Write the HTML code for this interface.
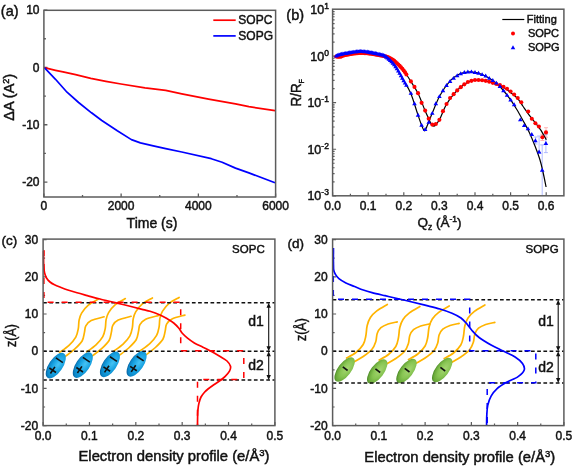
<!DOCTYPE html>
<html><head><meta charset="utf-8"><style>
html,body{margin:0;padding:0;background:#fff;}
svg{display:block;filter:blur(0.3px);}
svg text{font-family:"Liberation Sans",sans-serif;fill:#111;stroke:#111;stroke-width:0.45px;}
</style></head><body>
<svg width="575" height="466" viewBox="0 0 575 466">
<rect width="575" height="466" fill="#fff"/>
<path d="M43.9,197v-3.5 M82.52,197v-2 M121.13,197v-3.5 M159.75,197v-2 M198.37,197v-3.5 M236.98,197v-2 M275.6,197v-3.5 M43.9,10.05h3.5 M43.9,38.73h2 M43.9,67.4h3.5 M43.9,96.08h2 M43.9,124.75h3.5 M43.9,153.43h2 M43.9,182.1h3.5" stroke="#5c5c5c" stroke-width="1.3" fill="none"/>
<polyline points="44.4,67.7 55.5,70.3 63,71.9 75.6,74.6 90.8,78.3 105.9,81.3 121,84 145,87.8 165.7,90.4 181.8,93.8 208.6,99.1 235.5,103.9 248.9,106.7 275,110.7" fill="none" stroke="#f00" stroke-width="1.7" stroke-linejoin="round"/>
<polyline points="44.4,67.6 55.5,79.3 67,92.2 78.6,102.5 91.5,112.8 101.8,120.5 117.3,130.8 131.4,139.6 140.4,142.9 153.3,145.8 165.7,148.6 181.8,152 211.3,158.7 222.1,162.2 235.5,168.1 248.9,172.9 275,182.8" fill="none" stroke="#00f" stroke-width="1.7" stroke-linejoin="round"/>
<rect x="43.9" y="10.3" width="231.7" height="186.7" fill="none" stroke="#5c5c5c" stroke-width="1.5"/>
<line x1="213.3" y1="20.2" x2="235.7" y2="20.2" stroke="#f00" stroke-width="1.7"/>
<line x1="213.3" y1="35.9" x2="235.7" y2="35.9" stroke="#00f" stroke-width="1.7"/>
<text x="238.3" y="24.3" font-size="12" text-anchor="start" >SOPC</text>
<text x="238.3" y="40" font-size="12" text-anchor="start" >SOPG</text>
<text x="39.5" y="14.25" font-size="12" text-anchor="end" >10</text>
<text x="39.5" y="71.6" font-size="12" text-anchor="end" >0</text>
<text x="39.5" y="128.95" font-size="12" text-anchor="end" >-10</text>
<text x="39.5" y="186.3" font-size="12" text-anchor="end" >-20</text>
<text x="43.9" y="210.3" font-size="12" text-anchor="middle" >0</text>
<text x="121.13" y="210.3" font-size="12" text-anchor="middle" >2000</text>
<text x="198.37" y="210.3" font-size="12" text-anchor="middle" >4000</text>
<text x="275.6" y="210.3" font-size="12" text-anchor="middle" >6000</text>
<text x="152" y="228" font-size="14" text-anchor="middle" >Time (s)</text>
<text transform="translate(13.8,97.3) rotate(-90)" font-size="14.5" text-anchor="middle">ΔA (A<tspan font-size="9" dy="-5">2</tspan><tspan dy="5">)</tspan></text>
<text x="0.8" y="16.2" font-size="14.5" text-anchor="start" >(a)</text>
<path d="M332.6,195.8v-3.5 M350.4,195.8v-2 M368.2,195.8v-3.5 M386,195.8v-2 M403.8,195.8v-3.5 M421.6,195.8v-2 M439.4,195.8v-3.5 M457.2,195.8v-2 M475,195.8v-3.5 M492.8,195.8v-2 M510.6,195.8v-3.5 M528.4,195.8v-2 M546.2,195.8v-3.5 M332.6,195.81h3.5 M332.6,181.79h2 M332.6,173.59h2 M332.6,167.77h2 M332.6,163.26h2 M332.6,159.57h2 M332.6,156.45h2 M332.6,153.75h2 M332.6,151.37h2 M332.6,149.24h3.5 M332.6,135.22h2 M332.6,127.02h2 M332.6,121.2h2 M332.6,116.69h2 M332.6,113h2 M332.6,109.88h2 M332.6,107.18h2 M332.6,104.8h2 M332.6,102.67h3.5 M332.6,88.65h2 M332.6,80.45h2 M332.6,74.63h2 M332.6,70.12h2 M332.6,66.43h2 M332.6,63.31h2 M332.6,60.61h2 M332.6,58.23h2 M332.6,56.1h3.5 M332.6,42.08h2 M332.6,33.88h2 M332.6,28.06h2 M332.6,23.55h2 M332.6,19.86h2 M332.6,16.74h2 M332.6,14.04h2 M332.6,11.66h2" stroke="#5c5c5c" stroke-width="1.2" fill="none"/>
<path d="M542.2,144.9V195.6M540.2,144.9h4M545.9,134.6V152.6M543.9,134.6h4M543.9,152.6h4M539.1,136V153.5M537.1,136h4M537.1,153.5h4M535.6,137V144M533.6,137h4M533.6,144h4" stroke="#a9b4ff" stroke-width="0.9" fill="none"/>
<path d="M546,127.7V137.2M544,127.7h4M544,137.2h4M542.4,134.3V140.5M540.4,134.3h4M540.4,140.5h4" stroke="#ffb0b0" stroke-width="0.9" fill="none"/>
<path d="M336,55.8 C337.5,55.42 340.67,54.22 345,53.5 C349.33,52.78 356,51.28 362,51.5 C368,51.72 375.67,52.63 381,54.8 C386.33,56.97 390.33,60.38 394,64.5 C397.67,68.62 400.23,74.75 403,79.5 C405.77,84.25 408.18,87.33 410.6,93 C413.02,98.67 415.68,108.17 417.5,113.5 C419.32,118.83 420.32,122.12 421.5,125 C422.68,127.88 423.6,130.8 424.6,130.8 C425.6,130.8 426.25,127.87 427.5,125 C428.75,122.13 430.05,118.48 432.1,113.6 C434.15,108.72 436.8,101.17 439.8,95.7 C442.8,90.23 446.82,84.42 450.1,80.8 C453.38,77.18 456.52,75.47 459.5,74 C462.48,72.53 465.45,72.28 468,72 C470.55,71.72 472.45,71.88 474.8,72.3 C477.15,72.72 479.67,73.52 482.1,74.5 C484.53,75.48 486.97,76.7 489.4,78.2 C491.83,79.7 494.43,81.53 496.7,83.5 C498.97,85.47 500.73,87.35 503,90 C505.27,92.65 508,96.15 510.3,99.4 C512.6,102.65 514.68,105.98 516.8,109.5 C518.92,113.02 520.93,116.72 523,120.5 C525.07,124.28 527.2,127.95 529.2,132.2 C531.2,136.45 533.2,141.37 535,146 C536.8,150.63 538.67,155.67 540,160 C541.33,164.33 541.98,167.5 543,172 C544.02,176.5 545.58,184.5 546.1,187" stroke="#000" stroke-width="1.2" fill="none"/>
<path d="M336,56.5 C337.5,56.25 340.67,55.58 345,55 C349.33,54.42 356,52.92 362,53 C368,53.08 376.22,54.58 381,55.5 C385.78,56.42 387.65,56.85 390.7,58.5 C393.75,60.15 396.97,63.15 399.3,65.4 C401.63,67.65 402.82,69.4 404.7,72 C406.58,74.6 408.37,77.42 410.6,81 C412.83,84.58 415.73,88.67 418.1,93.5 C420.47,98.33 423.05,105.83 424.8,110 C426.55,114.17 427.48,116.08 428.6,118.5 C429.72,120.92 430.63,123.22 431.5,124.5 C432.37,125.78 433.05,126.2 433.8,126.2 C434.55,126.2 435,125.7 436,124.5 C437,123.3 438.17,122.17 439.8,119 C441.43,115.83 443.52,109.62 445.8,105.5 C448.08,101.38 451.03,97.33 453.5,94.3 C455.97,91.27 458.23,89.3 460.6,87.3 C462.97,85.3 465.27,83.48 467.7,82.3 C470.13,81.12 472.8,80.5 475.2,80.2 C477.6,79.9 479.73,80.2 482.1,80.5 C484.47,80.8 487.08,81.37 489.4,82 C491.72,82.63 493.68,83.42 496,84.3 C498.32,85.18 500.83,85.9 503.3,87.3 C505.77,88.7 508.42,90.83 510.8,92.7 C513.18,94.57 515.6,96.28 517.6,98.5 C519.6,100.72 520.87,103.23 522.8,106 C524.73,108.77 526.97,112.12 529.2,115.1 C531.43,118.08 534.23,121.35 536.2,123.9 C538.17,126.45 539.32,127.75 541,130.4 C542.68,133.05 545.42,138.23 546.3,139.8" stroke="#000" stroke-width="1.2" fill="none"/>
<g fill="#f00"><circle cx="336.2" cy="56.51" r="2.05"/><circle cx="337.55" cy="56.65" r="2.05"/><circle cx="338.9" cy="56.77" r="2.05"/><circle cx="340.25" cy="56.72" r="2.05"/><circle cx="341.6" cy="56.34" r="2.05"/><circle cx="342.95" cy="55.74" r="2.05"/><circle cx="344.3" cy="55.18" r="2.05"/><circle cx="345.65" cy="54.89" r="2.05"/><circle cx="347" cy="54.65" r="2.05"/><circle cx="348.35" cy="54.42" r="2.05"/><circle cx="349.7" cy="54.19" r="2.05"/><circle cx="351.05" cy="53.97" r="2.05"/><circle cx="352.4" cy="53.76" r="2.05"/><circle cx="353.75" cy="53.57" r="2.05"/><circle cx="355.1" cy="53.4" r="2.05"/><circle cx="356.45" cy="53.26" r="2.05"/><circle cx="357.8" cy="53.14" r="2.05"/><circle cx="359.15" cy="53.05" r="2.05"/><circle cx="360.5" cy="53.01" r="2.05"/><circle cx="361.85" cy="53" r="2.05"/><circle cx="363.2" cy="53.03" r="2.05"/><circle cx="364.55" cy="53.09" r="2.05"/><circle cx="365.9" cy="53.19" r="2.05"/><circle cx="367.25" cy="53.3" r="2.05"/><circle cx="368.6" cy="53.45" r="2.05"/><circle cx="369.95" cy="53.61" r="2.05"/><circle cx="371.3" cy="53.8" r="2.05"/><circle cx="372.65" cy="54" r="2.05"/><circle cx="374" cy="54.22" r="2.05"/><circle cx="375.35" cy="54.45" r="2.05"/><circle cx="376.7" cy="54.69" r="2.05"/><circle cx="378.05" cy="54.94" r="2.05"/><circle cx="379.4" cy="55.19" r="2.05"/><circle cx="380.75" cy="55.45" r="2.05"/><circle cx="382.1" cy="55.71" r="2.05"/><circle cx="383.45" cy="55.99" r="2.05"/><circle cx="384.8" cy="56.3" r="2.05"/><circle cx="386.15" cy="56.66" r="2.05"/><circle cx="387.5" cy="57.09" r="2.05"/><circle cx="388.85" cy="57.61" r="2.05"/><circle cx="390.2" cy="58.24" r="2.05"/><circle cx="391.55" cy="58.99" r="2.05"/><circle cx="392.9" cy="59.88" r="2.05"/><circle cx="394.25" cy="60.9" r="2.05"/><circle cx="395.6" cy="62.02" r="2.05"/><circle cx="396.95" cy="63.21" r="2.05"/><circle cx="398.3" cy="64.46" r="2.05"/><circle cx="399.65" cy="65.74" r="2.05"/><circle cx="401" cy="67.18" r="2.05"/><circle cx="402.35" cy="68.78" r="2.05"/><circle cx="403.7" cy="70.49" r="2.05"/><circle cx="405.05" cy="72.29" r="2.05"/><circle cx="406.4" cy="74.46" r="2.05"/><circle cx="410.92" cy="81.39" r="2.05"/><circle cx="414.48" cy="86.9" r="2.05"/><circle cx="418.04" cy="93.17" r="2.05"/><circle cx="421.6" cy="102.86" r="2.05"/><circle cx="425.16" cy="110.61" r="2.05"/><circle cx="428.72" cy="118.64" r="2.05"/><circle cx="432.28" cy="124.61" r="2.05"/><circle cx="435.84" cy="124.05" r="2.05"/><circle cx="439.4" cy="119.86" r="2.05"/><circle cx="442.96" cy="111.16" r="2.05"/><circle cx="446.52" cy="104.06" r="2.05"/><circle cx="450.08" cy="97.93" r="2.05"/><circle cx="453.64" cy="94.15" r="2.05"/><circle cx="457.2" cy="90.4" r="2.05"/><circle cx="460.76" cy="87.16" r="2.05"/><circle cx="464.32" cy="84.34" r="2.05"/><circle cx="467.88" cy="82.01" r="2.05"/><circle cx="471.44" cy="80.86" r="2.05"/><circle cx="475" cy="80.03" r="2.05"/><circle cx="478.56" cy="79.99" r="2.05"/><circle cx="482.12" cy="80.3" r="2.05"/><circle cx="485.68" cy="80.86" r="2.05"/><circle cx="489.24" cy="81.74" r="2.05"/><circle cx="492.8" cy="82.87" r="2.05"/><circle cx="496.36" cy="84.05" r="2.05"/><circle cx="499.92" cy="85.04" r="2.05"/><circle cx="503.48" cy="86.69" r="2.05"/><circle cx="507.04" cy="88.7" r="2.05"/><circle cx="510.6" cy="91.5" r="2.05"/><circle cx="514.16" cy="94.46" r="2.05"/><circle cx="517.72" cy="98.03" r="2.05"/><circle cx="521.28" cy="102.31" r="2.05"/><circle cx="528.2" cy="111.5" r="2.05"/><circle cx="531.8" cy="118.8" r="2.05"/><circle cx="535.4" cy="123.3" r="2.05"/><circle cx="538.9" cy="126.5" r="2.05"/><circle cx="542.4" cy="137.3" r="2.05"/><circle cx="546" cy="132.4" r="2.05"/></g>
<path d="M333.9,57.41L336.2,53.51L338.5,57.41ZM335.25,56.8L337.55,52.9L339.85,56.8ZM336.6,56.36L338.9,52.46L341.2,56.36ZM337.95,56L340.25,52.1L342.55,56ZM339.3,55.67L341.6,51.77L343.9,55.67ZM340.65,55.37L342.95,51.47L345.25,55.37ZM342,55.11L344.3,51.21L346.6,55.11ZM343.35,54.9L345.65,51L347.95,54.9ZM344.7,54.69L347,50.79L349.3,54.69ZM346.05,54.46L348.35,50.56L350.65,54.46ZM347.4,54.23L349.7,50.33L352,54.23ZM348.75,54L351.05,50.1L353.35,54ZM350.1,53.78L352.4,49.88L354.7,53.78ZM351.45,53.58L353.75,49.68L356.05,53.58ZM352.8,53.39L355.1,49.49L357.4,53.39ZM354.15,53.24L356.45,49.34L358.75,53.24ZM355.5,53.11L357.8,49.21L360.1,53.11ZM356.85,53.02L359.15,49.12L361.45,53.02ZM358.2,52.98L360.5,49.08L362.8,52.98ZM359.55,53L361.85,49.1L364.15,53ZM360.9,53.06L363.2,49.16L365.5,53.06ZM362.25,53.16L364.55,49.26L366.85,53.16ZM363.6,53.3L365.9,49.4L368.2,53.3ZM364.95,53.47L367.25,49.57L369.55,53.47ZM366.3,53.67L368.6,49.77L370.9,53.67ZM367.65,53.9L369.95,50L372.25,53.9ZM369,54.14L371.3,50.24L373.6,54.14ZM370.35,54.41L372.65,50.51L374.95,54.41ZM371.7,54.69L374,50.79L376.3,54.69ZM373.05,54.97L375.35,51.07L377.65,54.97ZM374.4,55.27L376.7,51.37L379,55.27ZM375.75,55.56L378.05,51.66L380.35,55.56ZM377.1,55.86L379.4,51.96L381.7,55.86ZM378.45,56.15L380.75,52.25L383.05,56.15ZM379.8,56.44L382.1,52.54L384.4,56.44ZM381.15,56.84L383.45,52.94L385.75,56.84ZM382.5,57.49L384.8,53.59L387.1,57.49ZM383.85,58.48L386.15,54.58L388.45,58.48ZM385.2,59.56L387.5,55.66L389.8,59.56ZM386.55,60.73L388.85,56.83L391.15,60.73ZM387.9,61.97L390.2,58.07L392.5,61.97ZM389.25,63.31L391.55,59.41L393.85,63.31ZM390.6,64.75L392.9,60.85L395.2,64.75ZM391.95,66.3L394.25,62.4L396.55,66.3ZM393.3,68.14L395.6,64.24L397.9,68.14ZM394.65,70.26L396.95,66.36L399.25,70.26ZM396,72.52L398.3,68.62L400.6,72.52ZM397.35,74.8L399.65,70.9L401.95,74.8ZM398.7,77.26L401,73.36L403.3,77.26ZM400.05,79.81L402.35,75.91L404.65,79.81ZM401.4,82.23L403.7,78.33L406,82.23ZM402.75,84.56L405.05,80.66L407.35,84.56ZM404.1,86.87L406.4,82.97L408.7,86.87ZM408.62,94.84L410.92,90.94L413.22,94.84ZM412.18,105.17L414.48,101.27L416.78,105.17ZM415.74,116.63L418.04,112.73L420.34,116.63ZM419.3,126.73L421.6,122.83L423.9,126.73ZM422.86,130.88L425.16,126.98L427.46,130.88ZM426.42,123.82L428.72,119.92L431.02,123.82ZM429.98,114.83L432.28,110.93L434.58,114.83ZM433.54,105.22L435.84,101.32L438.14,105.22ZM437.1,98.1L439.4,94.2L441.7,98.1ZM440.66,92.21L442.96,88.31L445.26,92.21ZM444.22,86.93L446.52,83.03L448.82,86.93ZM447.78,82.92L450.08,79.02L452.38,82.92ZM451.34,79.85L453.64,75.95L455.94,79.85ZM454.9,77.2L457.2,73.3L459.5,77.2ZM458.46,75.27L460.76,71.37L463.06,75.27ZM462.02,73.9L464.32,70L466.62,73.9ZM465.58,73.51L467.88,69.61L470.18,73.51ZM469.14,73.31L471.44,69.41L473.74,73.31ZM472.7,73.94L475,70.04L477.3,73.94ZM476.26,74.76L478.56,70.86L480.86,74.76ZM479.82,76.11L482.12,72.21L484.42,76.11ZM483.38,77.49L485.68,73.59L487.98,77.49ZM486.94,79.81L489.24,75.91L491.54,79.81ZM490.5,81.93L492.8,78.03L495.1,81.93ZM494.06,84.53L496.36,80.63L498.66,84.53ZM497.62,87.94L499.92,84.04L502.22,87.94ZM501.18,92.19L503.48,88.29L505.78,92.19ZM504.74,96.78L507.04,92.88L509.34,96.78ZM508.3,101.49L510.6,97.59L512.9,101.49ZM511.86,106.17L514.16,102.27L516.46,106.17ZM518,121.3L520.3,117.4L522.6,121.3ZM521.9,127.1L524.2,123.2L526.5,127.1ZM525.7,130.3L528,126.4L530.3,130.3ZM529.5,136L531.8,132.1L534.1,136ZM533.1,142.2L535.4,138.3L537.7,142.2ZM536.8,153.5L539.1,149.6L541.4,153.5ZM539.9,171.7L542.2,167.8L544.5,171.7ZM543.6,144.9L545.9,141L548.2,144.9Z" fill="#00f"/>
<rect x="332.6" y="9.2" width="231.3" height="186.6" fill="none" stroke="#5c5c5c" stroke-width="1.5"/>
<line x1="502.3" y1="19.5" x2="524.3" y2="19.5" stroke="#000" stroke-width="1.2"/>
<text x="526.8" y="23" font-size="11" text-anchor="start" >Fitting</text>
<circle cx="513" cy="33.4" r="2" fill="#f00"/>
<text x="527.9" y="36.9" font-size="11" text-anchor="start" >SOPC</text>
<path d="M510.7,49.2L513,45.3L515.3,49.2Z" fill="#00f"/>
<text x="527.9" y="51" font-size="11" text-anchor="start" >SOPG</text>
<text x="332.6" y="210.3" font-size="12" text-anchor="middle" >0.0</text>
<text x="368.2" y="210.3" font-size="12" text-anchor="middle" >0.1</text>
<text x="403.8" y="210.3" font-size="12" text-anchor="middle" >0.2</text>
<text x="439.4" y="210.3" font-size="12" text-anchor="middle" >0.3</text>
<text x="475" y="210.3" font-size="12" text-anchor="middle" >0.4</text>
<text x="510.6" y="210.3" font-size="12" text-anchor="middle" >0.5</text>
<text x="546.2" y="210.3" font-size="12" text-anchor="middle" >0.6</text>
<text x="328.9" y="14.13" font-size="12.5" text-anchor="end">10<tspan font-size="8.5" dy="-5">1</tspan></text>
<text x="328.9" y="60.7" font-size="12.5" text-anchor="end">10<tspan font-size="8.5" dy="-5">0</tspan></text>
<text x="328.9" y="107.27" font-size="12.5" text-anchor="end">10<tspan font-size="8.5" dy="-5">-1</tspan></text>
<text x="328.9" y="153.84" font-size="12.5" text-anchor="end">10<tspan font-size="8.5" dy="-5">-2</tspan></text>
<text x="328.9" y="200.41" font-size="12.5" text-anchor="end">10<tspan font-size="8.5" dy="-5">-3</tspan></text>
<text transform="translate(301.2,106.6) rotate(-90) scale(0.9,1)" font-size="15">R/R<tspan font-size="8" dy="3">F</tspan></text>
<text x="417.4" y="227" font-size="13.5">Q<tspan font-size="8.5" dy="3">z</tspan><tspan dy="-3"> (Å</tspan><tspan font-size="8.5" dy="-5">-1</tspan><tspan dy="5">)</tspan></text>
<text x="286.3" y="19.6" font-size="14.5" text-anchor="start" >(b)</text>
<defs><radialGradient id="gb" cx="0.58" cy="0.6" r="0.62"><stop offset="0" stop-color="#45c3f4"/><stop offset="0.55" stop-color="#18a2e1"/><stop offset="0.85" stop-color="#0c88c9"/><stop offset="1" stop-color="#0762a0"/></radialGradient><radialGradient id="gg" cx="0.58" cy="0.6" r="0.62"><stop offset="0" stop-color="#a6d672"/><stop offset="0.55" stop-color="#86c451"/><stop offset="0.85" stop-color="#6aa93a"/><stop offset="1" stop-color="#4a8a25"/></radialGradient></defs>
<path d="M43.1,425.6v-3.5 M66.28,425.6v-2 M89.46,425.6v-3.5 M112.64,425.6v-2 M135.82,425.6v-3.5 M159,425.6v-2 M182.18,425.6v-3.5 M205.36,425.6v-2 M228.54,425.6v-3.5 M251.72,425.6v-2 M274.9,425.6v-3.5 M43.1,425.6h3.5 M43.1,407h2 M43.1,388.4h3.5 M43.1,369.8h2 M43.1,351.2h3.5 M43.1,332.6h2 M43.1,314h3.5 M43.1,295.4h2 M43.1,276.8h3.5 M43.1,258.2h2 M43.1,239.6h3.5" stroke="#5c5c5c" stroke-width="1.2" fill="none"/>
<g transform="translate(55.8,365.6)">
<path d="M3.8,-13.2 C5.37,-14.38 10.5,-17.75 13.2,-20.3 C15.9,-22.85 18.45,-25.72 20,-28.5 C21.55,-31.28 21.95,-34.17 22.5,-37 C23.05,-39.83 22.75,-42.92 23.3,-45.5 C23.85,-48.08 24.27,-50 25.8,-52.5 C27.33,-55 29.72,-58.17 32.5,-60.5 C35.28,-62.83 40.83,-65.5 42.5,-66.5" stroke="#ffb400" stroke-width="1.7" fill="none" stroke-linecap="round"/>
<path d="M9.6,-9.2 C11.13,-10.4 16.02,-13.83 18.8,-16.4 C21.58,-18.97 24.67,-21.83 26.3,-24.6 C27.93,-27.37 27.98,-30.47 28.6,-33 C29.22,-35.53 28.87,-37.8 30,-39.8 C31.13,-41.8 32.35,-43.5 35.4,-45 C38.45,-46.5 46.15,-48.17 48.3,-48.8" stroke="#ffb400" stroke-width="1.7" fill="none" stroke-linecap="round"/>
<g transform="rotate(-56)">
<ellipse cx="0" cy="0" rx="14.7" ry="6.9" fill="url(#gb)"/>
<path d="M6.4,-4.2v8.4" stroke="#111" stroke-width="1.6"/>
<path d="M-5.6,-4v8M-9.6,0h8" stroke="#111" stroke-width="1.6"/>
</g></g>
<g transform="translate(82.8,365.1)">
<path d="M3.8,-13.2 C5.37,-14.38 10.5,-17.75 13.2,-20.3 C15.9,-22.85 18.45,-25.72 20,-28.5 C21.55,-31.28 21.95,-34.17 22.5,-37 C23.05,-39.83 22.75,-42.92 23.3,-45.5 C23.85,-48.08 24.27,-50 25.8,-52.5 C27.33,-55 29.72,-58.17 32.5,-60.5 C35.28,-62.83 40.83,-65.5 42.5,-66.5" stroke="#ffb400" stroke-width="1.7" fill="none" stroke-linecap="round"/>
<path d="M9.6,-9.2 C11.13,-10.4 16.02,-13.83 18.8,-16.4 C21.58,-18.97 24.67,-21.83 26.3,-24.6 C27.93,-27.37 27.98,-30.47 28.6,-33 C29.22,-35.53 28.87,-37.8 30,-39.8 C31.13,-41.8 32.35,-43.5 35.4,-45 C38.45,-46.5 46.15,-48.17 48.3,-48.8" stroke="#ffb400" stroke-width="1.7" fill="none" stroke-linecap="round"/>
<g transform="rotate(-56)">
<ellipse cx="0" cy="0" rx="14.7" ry="6.9" fill="url(#gb)"/>
<path d="M6.4,-4.2v8.4" stroke="#111" stroke-width="1.6"/>
<path d="M-5.6,-4v8M-9.6,0h8" stroke="#111" stroke-width="1.6"/>
</g></g>
<g transform="translate(109.9,364.4)">
<path d="M3.8,-13.2 C5.37,-14.38 10.5,-17.75 13.2,-20.3 C15.9,-22.85 18.45,-25.72 20,-28.5 C21.55,-31.28 21.95,-34.17 22.5,-37 C23.05,-39.83 22.75,-42.92 23.3,-45.5 C23.85,-48.08 24.27,-50 25.8,-52.5 C27.33,-55 29.72,-58.17 32.5,-60.5 C35.28,-62.83 40.83,-65.5 42.5,-66.5" stroke="#ffb400" stroke-width="1.7" fill="none" stroke-linecap="round"/>
<path d="M9.6,-9.2 C11.13,-10.4 16.02,-13.83 18.8,-16.4 C21.58,-18.97 24.67,-21.83 26.3,-24.6 C27.93,-27.37 27.98,-30.47 28.6,-33 C29.22,-35.53 28.87,-37.8 30,-39.8 C31.13,-41.8 32.35,-43.5 35.4,-45 C38.45,-46.5 46.15,-48.17 48.3,-48.8" stroke="#ffb400" stroke-width="1.7" fill="none" stroke-linecap="round"/>
<g transform="rotate(-56)">
<ellipse cx="0" cy="0" rx="14.7" ry="6.9" fill="url(#gb)"/>
<path d="M6.4,-4.2v8.4" stroke="#111" stroke-width="1.6"/>
<path d="M-5.6,-4v8M-9.6,0h8" stroke="#111" stroke-width="1.6"/>
</g></g>
<g transform="translate(136.6,363.9)">
<path d="M3.8,-13.2 C5.37,-14.38 10.5,-17.75 13.2,-20.3 C15.9,-22.85 18.45,-25.72 20,-28.5 C21.55,-31.28 21.95,-34.17 22.5,-37 C23.05,-39.83 22.75,-42.92 23.3,-45.5 C23.85,-48.08 24.27,-50 25.8,-52.5 C27.33,-55 29.72,-58.17 32.5,-60.5 C35.28,-62.83 40.83,-65.5 42.5,-66.5" stroke="#ffb400" stroke-width="1.7" fill="none" stroke-linecap="round"/>
<path d="M9.6,-9.2 C11.13,-10.4 16.02,-13.83 18.8,-16.4 C21.58,-18.97 24.67,-21.83 26.3,-24.6 C27.93,-27.37 27.98,-30.47 28.6,-33 C29.22,-35.53 28.87,-37.8 30,-39.8 C31.13,-41.8 32.35,-43.5 35.4,-45 C38.45,-46.5 46.15,-48.17 48.3,-48.8" stroke="#ffb400" stroke-width="1.7" fill="none" stroke-linecap="round"/>
<g transform="rotate(-56)">
<ellipse cx="0" cy="0" rx="14.7" ry="6.9" fill="url(#gb)"/>
<path d="M6.4,-4.2v8.4" stroke="#111" stroke-width="1.6"/>
<path d="M-5.6,-4v8M-9.6,0h8" stroke="#111" stroke-width="1.6"/>
</g></g>
<path d="M43.1,302.7H274.9M43.1,351.2H274.9M43.1,380H274.9" stroke="#111" stroke-width="1.5" stroke-dasharray="3.7 2.5" fill="none"/>
<path d="M43.6,251 C43.6,252.83 43.55,259.17 43.6,262 C43.65,264.83 43.73,266.17 43.9,268 C44.07,269.83 44.17,271.33 44.6,273 C45.03,274.67 45.6,276.5 46.5,278 C47.4,279.5 48.67,280.87 50,282 C51.33,283.13 52.67,283.88 54.5,284.8 C56.33,285.72 58.78,286.63 61,287.5 C63.22,288.37 65.13,289.12 67.8,290 C70.47,290.88 73.75,291.87 77,292.8 C80.25,293.73 83.47,294.57 87.3,295.6 C91.13,296.63 95.38,297.83 100,299 C104.62,300.17 110.17,301.43 115,302.6 C119.83,303.77 124.33,304.83 129,306 C133.67,307.17 139.5,308.72 143,309.6 C146.5,310.48 147.17,310.4 150,311.3 C152.83,312.2 157.18,313.78 160,315 C162.82,316.22 164.62,317.27 166.9,318.6 C169.18,319.93 171.7,321.38 173.7,323 C175.7,324.62 177.47,326.58 178.9,328.3 C180.33,330.02 180.87,331.67 182.3,333.3 C183.73,334.93 185.5,336.5 187.5,338.1 C189.5,339.7 191.73,341.38 194.3,342.9 C196.87,344.42 200.03,345.77 202.9,347.2 C205.77,348.63 208.63,349.95 211.5,351.5 C214.37,353.05 217.52,354.92 220.1,356.5 C222.68,358.08 225.27,359.37 227,361 C228.73,362.63 230.08,364.6 230.5,366.3 C230.92,368 230.38,369.52 229.5,371.2 C228.62,372.88 226.63,374.93 225.2,376.4 C223.77,377.87 222.73,378.65 220.9,380 C219.07,381.35 216.35,383 214.2,384.5 C212.05,386 209.62,387.72 208,389 C206.38,390.28 205.67,390.87 204.5,392.2 C203.33,393.53 201.93,395.13 201,397 C200.07,398.87 199.42,401.23 198.9,403.4 C198.38,405.57 198.12,407.68 197.9,410 C197.68,412.32 197.67,414.77 197.6,417.3 C197.53,419.83 197.52,423.88 197.5,425.2" stroke="#f00" stroke-width="1.7" fill="none"/>
<path d="M43.9,250V302.3H180.7V350.8H243.8V379.6H197.5V425" stroke="#f00" stroke-width="1.5" stroke-dasharray="6 8" fill="none"/>
<rect x="43.1" y="239.1" width="231.8" height="186.5" fill="none" stroke="#5c5c5c" stroke-width="1.5"/>
<line x1="268.7" y1="305.7" x2="268.7" y2="348.2" stroke="#111" stroke-width="1.1"/>
<path d="M268.7,302.7l-2.2,5h4.4z M268.7,351.2l-2.2,-5h4.4z" fill="#111"/>
<line x1="268.7" y1="354.2" x2="268.7" y2="377" stroke="#111" stroke-width="1.1"/>
<path d="M268.7,351.2l-2.2,5h4.4z M268.7,380l-2.2,-5h4.4z" fill="#111"/>
<text x="248.3" y="325.6" font-size="14" text-anchor="start" >d1</text>
<text x="248.3" y="369.5" font-size="14" text-anchor="start" >d2</text>
<text x="38.1" y="243.8" font-size="12" text-anchor="end" >30</text>
<text x="38.1" y="281" font-size="12" text-anchor="end" >20</text>
<text x="38.1" y="318.2" font-size="12" text-anchor="end" >10</text>
<text x="38.1" y="355.4" font-size="12" text-anchor="end" >0</text>
<text x="38.1" y="392.6" font-size="12" text-anchor="end" >-10</text>
<text x="38.1" y="429.8" font-size="12" text-anchor="end" >-20</text>
<text x="43.1" y="440.3" font-size="12" text-anchor="middle" >0.0</text>
<text x="89.46" y="440.3" font-size="12" text-anchor="middle" >0.1</text>
<text x="135.82" y="440.3" font-size="12" text-anchor="middle" >0.2</text>
<text x="182.18" y="440.3" font-size="12" text-anchor="middle" >0.3</text>
<text x="228.54" y="440.3" font-size="12" text-anchor="middle" >0.4</text>
<text x="274.9" y="440.3" font-size="12" text-anchor="middle" >0.5</text>
<text x="78.5" y="460.6" font-size="14" textLength="191" lengthAdjust="spacingAndGlyphs">Electron density profile (e/Å<tspan font-size="9" dy="-5">3</tspan><tspan dy="5">)</tspan></text>
<text transform="translate(16.1,335.5) rotate(-90)" font-size="15" text-anchor="middle" textLength="23" lengthAdjust="spacingAndGlyphs">z(Å)</text>
<text x="232.1" y="253.4" font-size="11.5" text-anchor="start" >SOPC</text>
<text x="1.5" y="245" font-size="13.5" text-anchor="start" >(c)</text>
<path d="M332.6,425.6v-3.5 M355.73,425.6v-2 M378.86,425.6v-3.5 M401.99,425.6v-2 M425.12,425.6v-3.5 M448.25,425.6v-2 M471.38,425.6v-3.5 M494.51,425.6v-2 M517.64,425.6v-3.5 M540.77,425.6v-2 M563.9,425.6v-3.5 M332.6,425.6h3.5 M332.6,407h2 M332.6,388.4h3.5 M332.6,369.8h2 M332.6,351.2h3.5 M332.6,332.6h2 M332.6,314h3.5 M332.6,295.4h2 M332.6,276.8h3.5 M332.6,258.2h2 M332.6,239.6h3.5" stroke="#5c5c5c" stroke-width="1.2" fill="none"/>
<g transform="translate(344.6,369.5)">
<path d="M2,-11.5 C3.55,-12.42 8.53,-14.75 11.3,-17 C14.07,-19.25 16.95,-22.25 18.6,-25 C20.25,-27.75 20.53,-30.33 21.2,-33.5 C21.87,-36.67 21.83,-40.92 22.6,-44 C23.37,-47.08 24.2,-49.57 25.8,-52 C27.4,-54.43 29.38,-56.43 32.2,-58.6 C35.02,-60.77 40.95,-63.93 42.7,-65" stroke="#ffb400" stroke-width="1.7" fill="none" stroke-linecap="round"/>
<path d="M9.8,-7.8 C11.27,-8.67 15.67,-10.92 18.6,-13 C21.53,-15.08 25.3,-17.8 27.4,-20.3 C29.5,-22.8 30.33,-25.38 31.2,-28 C32.07,-30.62 31.75,-33.7 32.6,-36 C33.45,-38.3 34.48,-40.22 36.3,-41.8 C38.12,-43.38 40.78,-44.53 43.5,-45.5 C46.22,-46.47 51.08,-47.25 52.6,-47.6" stroke="#ffb400" stroke-width="1.7" fill="none" stroke-linecap="round"/>
<g transform="rotate(-53)">
<ellipse cx="0" cy="0" rx="14.5" ry="6.6" fill="url(#gg)"/>
<path d="M1,-3v6" stroke="#111" stroke-width="1.6"/>
</g></g>
<g transform="translate(377.2,371.5)">
<path d="M2,-11.5 C3.55,-12.42 8.53,-14.75 11.3,-17 C14.07,-19.25 16.95,-22.25 18.6,-25 C20.25,-27.75 20.53,-30.33 21.2,-33.5 C21.87,-36.67 21.83,-40.92 22.6,-44 C23.37,-47.08 24.2,-49.57 25.8,-52 C27.4,-54.43 29.38,-56.43 32.2,-58.6 C35.02,-60.77 40.95,-63.93 42.7,-65" stroke="#ffb400" stroke-width="1.7" fill="none" stroke-linecap="round"/>
<path d="M9.8,-7.8 C11.27,-8.67 15.67,-10.92 18.6,-13 C21.53,-15.08 25.3,-17.8 27.4,-20.3 C29.5,-22.8 30.33,-25.38 31.2,-28 C32.07,-30.62 31.75,-33.7 32.6,-36 C33.45,-38.3 34.48,-40.22 36.3,-41.8 C38.12,-43.38 40.78,-44.53 43.5,-45.5 C46.22,-46.47 51.08,-47.25 52.6,-47.6" stroke="#ffb400" stroke-width="1.7" fill="none" stroke-linecap="round"/>
<g transform="rotate(-53)">
<ellipse cx="0" cy="0" rx="14.5" ry="6.6" fill="url(#gg)"/>
<path d="M1,-3v6" stroke="#111" stroke-width="1.6"/>
</g></g>
<g transform="translate(406.5,371)">
<path d="M2,-11.5 C3.55,-12.42 8.53,-14.75 11.3,-17 C14.07,-19.25 16.95,-22.25 18.6,-25 C20.25,-27.75 20.53,-30.33 21.2,-33.5 C21.87,-36.67 21.83,-40.92 22.6,-44 C23.37,-47.08 24.2,-49.57 25.8,-52 C27.4,-54.43 29.38,-56.43 32.2,-58.6 C35.02,-60.77 40.95,-63.93 42.7,-65" stroke="#ffb400" stroke-width="1.7" fill="none" stroke-linecap="round"/>
<path d="M9.8,-7.8 C11.27,-8.67 15.67,-10.92 18.6,-13 C21.53,-15.08 25.3,-17.8 27.4,-20.3 C29.5,-22.8 30.33,-25.38 31.2,-28 C32.07,-30.62 31.75,-33.7 32.6,-36 C33.45,-38.3 34.48,-40.22 36.3,-41.8 C38.12,-43.38 40.78,-44.53 43.5,-45.5 C46.22,-46.47 51.08,-47.25 52.6,-47.6" stroke="#ffb400" stroke-width="1.7" fill="none" stroke-linecap="round"/>
<g transform="rotate(-53)">
<ellipse cx="0" cy="0" rx="14.5" ry="6.6" fill="url(#gg)"/>
<path d="M1,-3v6" stroke="#111" stroke-width="1.6"/>
</g></g>
<g transform="translate(442.2,370)">
<path d="M2,-11.5 C3.55,-12.42 8.53,-14.75 11.3,-17 C14.07,-19.25 16.95,-22.25 18.6,-25 C20.25,-27.75 20.53,-30.33 21.2,-33.5 C21.87,-36.67 21.83,-40.92 22.6,-44 C23.37,-47.08 24.2,-49.57 25.8,-52 C27.4,-54.43 29.38,-56.43 32.2,-58.6 C35.02,-60.77 40.95,-63.93 42.7,-65" stroke="#ffb400" stroke-width="1.7" fill="none" stroke-linecap="round"/>
<path d="M9.8,-7.8 C11.27,-8.67 15.67,-10.92 18.6,-13 C21.53,-15.08 25.3,-17.8 27.4,-20.3 C29.5,-22.8 30.33,-25.38 31.2,-28 C32.07,-30.62 31.75,-33.7 32.6,-36 C33.45,-38.3 34.48,-40.22 36.3,-41.8 C38.12,-43.38 40.78,-44.53 43.5,-45.5 C46.22,-46.47 51.08,-47.25 52.6,-47.6" stroke="#ffb400" stroke-width="1.7" fill="none" stroke-linecap="round"/>
<g transform="rotate(-53)">
<ellipse cx="0" cy="0" rx="14.5" ry="6.6" fill="url(#gg)"/>
<path d="M1,-3v6" stroke="#111" stroke-width="1.6"/>
</g></g>
<path d="M332.6,299.8H563.9M332.6,351.2H563.9M332.6,383H563.9" stroke="#111" stroke-width="1.5" stroke-dasharray="3.7 2.5" fill="none"/>
<path d="M333.4,248 C333.4,250.33 333.35,258.33 333.4,262 C333.45,265.67 333.37,267.95 333.7,270 C334.03,272.05 334.53,272.85 335.4,274.3 C336.27,275.75 337.15,277.25 338.9,278.7 C340.65,280.15 343.28,281.7 345.9,283 C348.52,284.3 351.7,285.33 354.6,286.5 C357.5,287.67 360.4,288.98 363.3,290 C366.2,291.02 368.38,291.65 372,292.6 C375.62,293.55 381.17,294.8 385,295.7 C388.83,296.6 390.83,297.03 395,298 C399.17,298.97 405,300.3 410,301.5 C415,302.7 420,303.95 425,305.2 C430,306.45 435.5,307.65 440,309 C444.5,310.35 448.5,311.8 452,313.3 C455.5,314.8 458.5,316.22 461,318 C463.5,319.78 465.23,322 467,324 C468.77,326 469.58,327.75 471.6,330 C473.62,332.25 475.85,335 479.1,337.5 C482.35,340 487.1,342.75 491.1,345 C495.1,347.25 499.1,349 503.1,351 C507.1,353 511.87,354.92 515.1,357 C518.33,359.08 520.98,361.33 522.5,363.5 C524.02,365.67 524.93,367.82 524.2,370 C523.47,372.18 521.12,374.5 518.1,376.6 C515.08,378.7 509.6,380.6 506.1,382.6 C502.6,384.6 499.6,386.35 497.1,388.6 C494.6,390.85 492.65,393.35 491.1,396.1 C489.55,398.85 488.52,401.95 487.8,405.1 C487.08,408.25 487,411.65 486.8,415 C486.6,418.35 486.63,423.5 486.6,425.2" stroke="#00f" stroke-width="1.7" fill="none"/>
<path d="M333.3,248V299.3H469.7V350.8H535.8V382.8H487.2V425" stroke="#00f" stroke-width="1.5" stroke-dasharray="6 8" fill="none"/>
<rect x="332.6" y="239.1" width="231.3" height="186.5" fill="none" stroke="#5c5c5c" stroke-width="1.5"/>
<line x1="558.2" y1="302.8" x2="558.2" y2="348.2" stroke="#111" stroke-width="1.1"/>
<path d="M558.2,299.8l-2.2,5h4.4z M558.2,351.2l-2.2,-5h4.4z" fill="#111"/>
<line x1="558.2" y1="354.2" x2="558.2" y2="380" stroke="#111" stroke-width="1.1"/>
<path d="M558.2,351.2l-2.2,5h4.4z M558.2,383l-2.2,-5h4.4z" fill="#111"/>
<text x="538.2" y="325.8" font-size="14" text-anchor="start" >d1</text>
<text x="538.2" y="372.2" font-size="14" text-anchor="start" >d2</text>
<text x="327.6" y="243.8" font-size="12" text-anchor="end" >30</text>
<text x="327.6" y="281" font-size="12" text-anchor="end" >20</text>
<text x="327.6" y="318.2" font-size="12" text-anchor="end" >10</text>
<text x="327.6" y="355.4" font-size="12" text-anchor="end" >0</text>
<text x="327.6" y="392.6" font-size="12" text-anchor="end" >-10</text>
<text x="327.6" y="429.8" font-size="12" text-anchor="end" >-20</text>
<text x="332.6" y="440.3" font-size="12" text-anchor="middle" >0.0</text>
<text x="378.86" y="440.3" font-size="12" text-anchor="middle" >0.1</text>
<text x="425.12" y="440.3" font-size="12" text-anchor="middle" >0.2</text>
<text x="471.38" y="440.3" font-size="12" text-anchor="middle" >0.3</text>
<text x="517.64" y="440.3" font-size="12" text-anchor="middle" >0.4</text>
<text x="563.9" y="440.3" font-size="12" text-anchor="middle" >0.5</text>
<text x="364.3" y="461.5" font-size="14" textLength="191" lengthAdjust="spacingAndGlyphs">Electron density profile (e/Å<tspan font-size="9" dy="-5">3</tspan><tspan dy="5">)</tspan></text>
<text transform="translate(305.6,329.6) rotate(-90)" font-size="15" text-anchor="middle" textLength="23" lengthAdjust="spacingAndGlyphs">z(Å)</text>
<text x="525.5" y="253.4" font-size="11.5" text-anchor="start" >SOPG</text>
<text x="287.5" y="247.9" font-size="13.5" text-anchor="start" >(d)</text>
</svg>
</body></html>
